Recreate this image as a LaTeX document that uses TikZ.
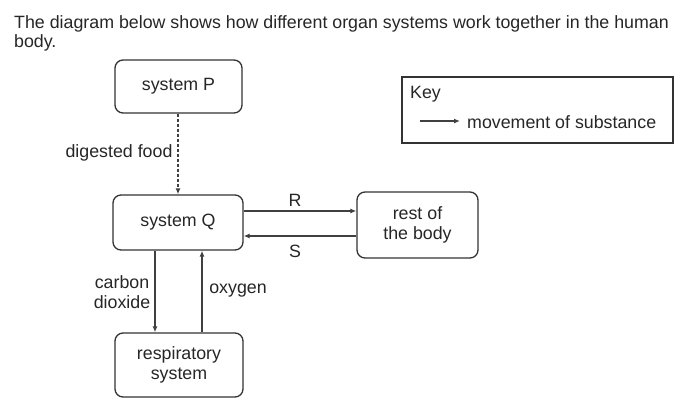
\documentclass[tikz,border=0pt]{standalone}
\usepackage{fontspec}
\setmainfont{Liberation Sans}
\usetikzlibrary{arrows.meta}
\begin{document}
\begin{tikzpicture}[x=1pt,y=-1pt,
  every node/.style={font=\fontsize{17.8}{20}\selectfont, text=black!85},
  box/.style={draw=black!80, line width=1.3pt, rounded corners=8pt, align=center, inner sep=0pt},
  flow/.style={draw=black!75, line width=1.2pt, -{Latex[length=6pt,width=5pt]}},
  lbl/.style={align=center, inner sep=1pt}]
\useasboundingbox (0,0) rectangle (680,405);
% title
\node[anchor=base west, inner sep=0pt] (t1) at (14,28) {The diagram below shows how different organ systems work together in the human};
\node[anchor=base west, inner sep=0pt] (t2) at (14,47) {body.};
% boxes
\node[box, minimum width=127pt, minimum height=53pt] (P) at (178.5,86.5) {system P};
\node[box, minimum width=130pt, minimum height=55pt] (Q) at (178,222.5) {system Q};
\node[box, minimum width=121pt, minimum height=66pt] (B) at (417.5,225) {rest of\\the body};
\node[box, minimum width=128pt, minimum height=64pt] (Rs) at (179,365) {respiratory\\system};
% key
\node[draw=black!80, line width=1.2pt, minimum width=271pt, minimum height=66pt, inner sep=0pt] (K) at (537.5,110) {};
\node[anchor=west, inner sep=0pt] (Kt) at (410,94) {Key};
\coordinate (ka) at (420,121);
\coordinate (kb) at (460,121);
\draw[flow] (ka) -- (kb);
\node[anchor=west, inner sep=0pt] (Km) at (467,122) {movement of substance};
% connectors
\draw[flow, dashed, dash pattern=on 3pt off 2pt] (P.south -| 178,0) -- (Q.north -| 178,0);
\node[lbl] (df) at (119,153) {digested food};
\draw[flow] (Q.east |- 0,211) -- (B.west |- 0,211);
\node[lbl] (R) at (295,200) {R};
\draw[flow] (B.west |- 0,236) -- (Q.east |- 0,236);
\node[lbl] (S) at (295,251) {S};
\draw[flow] (Q.south -| 155,0) -- (Rs.north -| 155,0);
\node[lbl] (cd) at (122,292) {carbon\\dioxide};
\draw[flow] (Rs.north -| 202,0) -- (Q.south -| 202,0);
\node[lbl] (ox) at (238,291) {oxygen};
\end{tikzpicture}
\end{document}
